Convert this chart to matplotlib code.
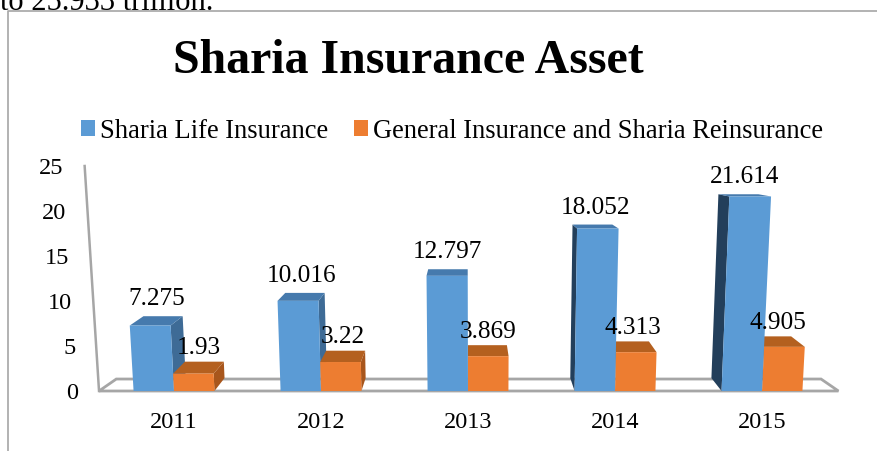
import matplotlib
matplotlib.use('Agg')
import matplotlib.pyplot as plt
from matplotlib.patches import Polygon, Patch
from matplotlib.lines import Line2D

# ---------------- data ----------------
years = ['2011', '2012', '2013', '2014', '2015']
life = [7.275, 10.016, 12.797, 18.052, 21.614]
general = [1.93, 3.22, 3.869, 4.313, 4.905]
life_labels = ['7.275', '10.016', '12.797', '18.052', '21.614']
general_labels = ['1.93', '3.22', '3.869', '4.313', '4.905']
yticks = [0, 5, 10, 15, 20, 25]
series_names = ['Sharia Life Insurance', 'General Insurance and Sharia Reinsurance']
title = 'Sharia Insurance Asset'
above_text = 'to 25.933 trillion.'

# ---------------- style ----------------
FONT = 'Liberation Serif'
FS_TICK = 17.5
FS_LABEL = 18.2
FS_LEGEND = 19.1
BLUE = dict(front='#5B9BD5', top='#467AAD', right='#3E6B96', left='#233F5B')
ORANGE = dict(front='#ED7D31', top='#B4601F', right='#A8561C', left='#8A4515')
GRAY = '#A6A6A6'

# pseudo-3D perspective parameters (data units)
XV, YV = 2.0, 26.1          # vanishing point
KX_BAR, KY_BAR = 0.042, 0.055
KX_FLOOR, KY_FLOOR = 0.0488, 0.051
KT, XC = 0.0015, 2.1        # vertical convergence
BAR_W = 0.275
FLOOR_L, FLOOR_R = -0.51, 4.52


def tilt(u, v):
    return (u + KT * (u - XC) * v, v)


def back(u, v, kx, ky):
    return tilt(u + kx * (XV - u), v + ky * (YV - v))


W, H = 878, 452
fig = plt.figure(figsize=(W / 100, H / 100), dpi=100)
ax = fig.add_axes([100 / W, (H - 392) / H, 738 / W, 225 / H])
ax.set_xlim((100 - 174) / 147, (838 - 174) / 147)
ax.set_ylim(0, 25)
for s in ax.spines.values():
    s.set_visible(False)
ax.set_yticks([])
ax.set_xticks(range(len(years)))
ax.set_xticklabels(years, fontsize=FS_TICK, family=FONT)
ax.tick_params(axis='x', length=0, pad=14.5)

# floor
floor = [tilt(FLOOR_L, 0), tilt(FLOOR_R, 0),
         back(FLOOR_R, 0, KX_FLOOR, KY_FLOOR), back(FLOOR_L, 0, KX_FLOOR, KY_FLOOR)]
ax.add_patch(Polygon(floor, closed=True, facecolor='white', edgecolor=GRAY,
                     lw=2.0, joinstyle='miter', clip_on=False, zorder=1))
# vertical axis line
p0, p1 = tilt(FLOOR_L, 0), tilt(FLOOR_L, yticks[-1])
ax.add_line(Line2D([p0[0], p1[0]], [p0[1], p1[1]], color=GRAY, lw=1.8,
                   clip_on=False, zorder=1))
# y tick labels following tilted axis
for t in yticks:
    px, py = tilt(FLOOR_L - 0.14, t)
    ax.text(px, py - 0.15, str(t), ha='right', va='center', fontsize=FS_TICK, family=FONT)

# bars
bars = []
for i in range(len(years)):
    bars.append((i - BAR_W, i, life[i], BLUE, life_labels[i], 2.0))
    bars.append((i, i + BAR_W, general[i], ORANGE, general_labels[i], 1.6))
bars.sort(key=lambda b: -abs((b[0] + b[1]) / 2 - XV))

z = 2
for ul, ur, v, col, lab, off in bars:
    fl, fr = tilt(ul, 0), tilt(ur, 0)
    tl, tr = tilt(ul, v), tilt(ur, v)
    bl0, br0 = back(ul, 0, KX_BAR, KY_BAR), back(ur, 0, KX_BAR, KY_BAR)
    blt, brt = back(ul, v, KX_BAR, KY_BAR), back(ur, v, KX_BAR, KY_BAR)
    if ur < XV - 1e-9:
        ax.add_patch(Polygon([fr, tr, brt, br0], closed=True, facecolor=col['right'],
                             edgecolor='none', clip_on=False, zorder=z))
    if ul > XV + 1e-9:
        ax.add_patch(Polygon([fl, tl, blt, bl0], closed=True, facecolor=col['left'],
                             edgecolor='none', clip_on=False, zorder=z))
    ax.add_patch(Polygon([tl, tr, brt, blt], closed=True, facecolor=col['top'],
                         edgecolor='none', clip_on=False, zorder=z))
    ax.add_patch(Polygon([fl, fr, tr, tl], closed=True, facecolor=col['front'],
                         edgecolor='none', clip_on=False, zorder=z + 0.5))
    cx = (tl[0] + tr[0] + blt[0] + brt[0]) / 4
    ax.text(cx, max(blt[1], brt[1]) + off, lab, ha='center', va='center',
            fontsize=FS_LABEL, family=FONT, zorder=20)
    z += 1

# legend
handles = [Patch(facecolor=BLUE['front'], edgecolor='none'),
           Patch(facecolor=ORANGE['front'], edgecolor='none')]
fig.legend(handles, series_names, loc='center left',
           bbox_to_anchor=(81 / W, 1 - 132 / H), ncol=2, frameon=False,
           prop={'family': FONT, 'size': FS_LEGEND}, handlelength=0.53, handleheight=0.53,
           handletextpad=0.17, columnspacing=1.0, borderpad=0, borderaxespad=0)

# title and surrounding text
fig.text(408 / W, 1 - 73 / H, title, ha='center', va='baseline', fontsize=34.5,
         fontweight='bold', family=FONT)
fig.text(0, 1 - 9.5 / H, above_text, ha='left', va='baseline', fontsize=22, family=FONT)

# chart border (top and left visible)
fig.add_artist(Line2D([8 / W, 8 / W, 1.0], [0, 1 - 12 / H, 1 - 12 / H],
                      transform=fig.transFigure, color=GRAY, lw=1.2))

fig.savefig('out.png', dpi=100)
